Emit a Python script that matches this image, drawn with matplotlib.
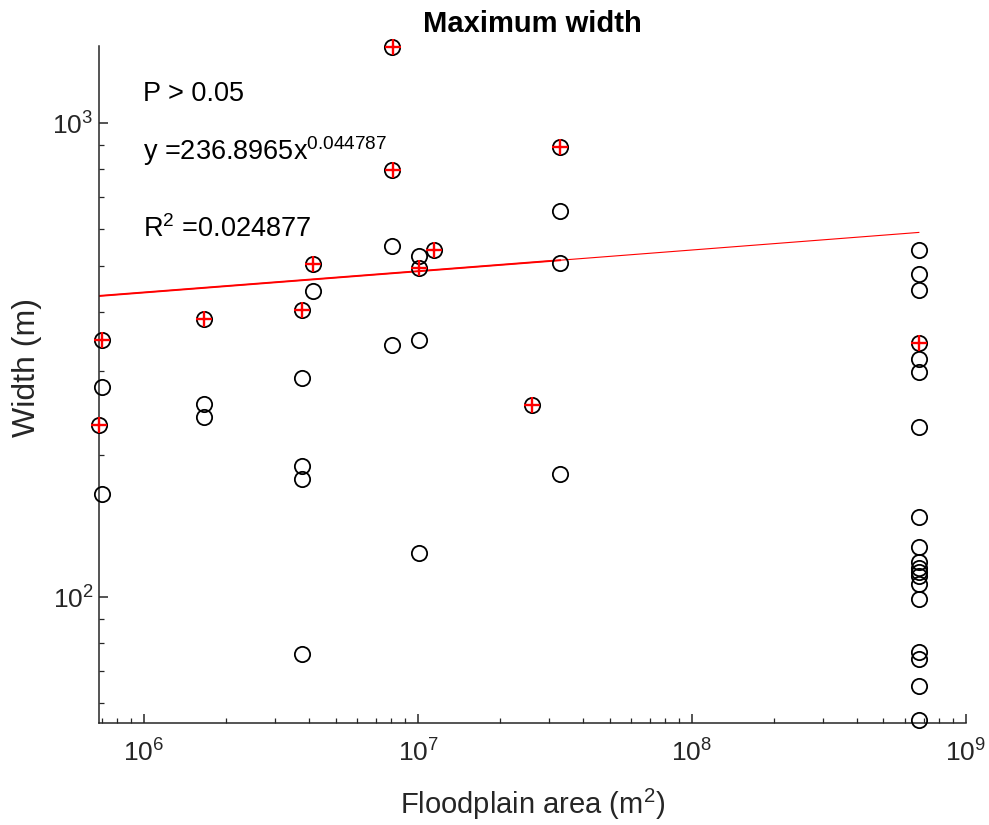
import matplotlib
matplotlib.use('Agg')
import matplotlib.pyplot as plt
import numpy as np
from matplotlib.ticker import LogLocator, NullFormatter

plt.rcParams['font.family'] = ['Liberation Sans', 'DejaVu Sans']
plt.rcParams['mathtext.fontset'] = 'custom'
plt.rcParams['mathtext.rm'] = 'Liberation Sans'
plt.rcParams['mathtext.it'] = 'Liberation Sans:italic'

# floodplain area (m2) and maximum width (m) of every site
area = [7.03e5, 7.03e5, 6.84e5, 7.03e5,
        1.65e6, 1.65e6, 1.65e6,
        3.76e6, 3.76e6, 3.76e6, 3.76e6, 3.76e6,
        4.14e6, 4.14e6,
        8.07e6, 8.07e6, 8.07e6, 8.07e6,
        1.009e7, 1.009e7, 1.009e7, 1.009e7,
        1.143e7, 2.61e7,
        3.30e7, 3.30e7, 3.30e7, 3.30e7,
        6.73e8, 6.73e8, 6.73e8, 6.73e8, 6.73e8, 6.73e8, 6.73e8, 6.73e8,
        6.73e8, 6.73e8, 6.73e8, 6.73e8, 6.73e8, 6.73e8, 6.73e8, 6.73e8,
        6.73e8, 6.73e8, 6.73e8]
width = [349, 278, 231, 165,
         386, 256, 240,
         404, 290, 189.5, 177.5, 75.9,
         504, 443,
         1451, 797, 551, 340,
         525, 495, 349, 123.8,
         540, 254,
         892, 653, 508, 182,
         540, 480, 446, 343.5, 319, 299, 229, 147.5,
         127.9, 118.9, 115.1, 113.2, 110.9, 106.5, 99.2, 76.8,
         74.0, 65.1, 55.1]

# points marked with a red cross
area_sel = [7.03e5, 6.84e5, 1.65e6, 3.76e6, 4.14e6, 8.1e6, 8.1e6,
            1.009e7, 1.143e7, 2.61e7, 3.30e7, 6.73e8]
width_sel = [349, 231, 386, 404, 504, 1451, 797, 495, 540, 254, 892, 343.5]

# power fit y = a*x^b
a_fit = 236.8965
b_fit = 0.044787
r2 = 0.024877

fig = plt.figure(figsize=(9.89, 8.25), dpi=100)
ax = fig.add_axes([0.1001, 0.124, 0.8766, 0.8202])

ax.plot(area, width, 'o', mfc='none', mec='black', ms=11, mew=1.3, zorder=3, clip_on=False)
ax.plot(area_sel, width_sel, '+', color='red', ms=12, mew=1.7, zorder=4, clip_on=False)

xf = np.array([min(area), max(area)])
ax.plot(xf, a_fit * xf ** b_fit, color='red', lw=0.8, zorder=2)
xs = np.array([min(area), 3.30e7])
ax.plot(xs, a_fit * xs ** b_fit, color='red', lw=1.4, zorder=2)

ax.set_xscale('log')
ax.set_yscale('log')
ax.set_xlim(6.85e5, 1.0e9)
ax.set_ylim(54.4, 1456)

ax.xaxis.set_major_locator(LogLocator(base=10, numticks=10))
ax.xaxis.set_minor_locator(LogLocator(base=10, subs=np.arange(2, 10), numticks=20))
ax.yaxis.set_minor_locator(LogLocator(base=10, subs=np.arange(2, 10), numticks=20))
ax.xaxis.set_minor_formatter(NullFormatter())
ax.yaxis.set_minor_formatter(NullFormatter())

for s in ['top', 'right']:
    ax.spines[s].set_visible(False)
for s in ['left', 'bottom']:
    ax.spines[s].set_color('#262626')
    ax.spines[s].set_linewidth(1.1)

ax.tick_params(which='both', direction='in', colors='#262626', labelsize=19)
ax.tick_params(which='major', length=6.7, width=1.1)
ax.tick_params(which='minor', length=3.3, width=0.9)
ax.tick_params(axis='x', which='major', pad=12)
ax.tick_params(axis='y', which='major', pad=4)

ax.set_xlabel('Floodplain area (m$^{2}$)', fontsize=21, color='#262626')
ax.xaxis.set_label_coords(0.5, -0.095)
ax.set_ylabel('Width (m)', fontsize=23, color='#262626')
ax.yaxis.set_label_coords(-0.066, 0.525)
ax.set_title('Maximum width', fontsize=21, fontweight='bold', pad=10)

ax.text(0.0507, 0.9187, 'P > 0.05', transform=ax.transAxes, fontsize=19.5, va='baseline')
ax.text(0.0507, 0.8316, 'y =%.4fx$^{%s}$' % (a_fit, b_fit), transform=ax.transAxes,
        fontsize=19.5, va='baseline')
ax.text(0.0507, 0.7182, 'R$^{2}$ =%s' % r2, transform=ax.transAxes, fontsize=19.5,
        va='baseline')

fig.savefig('out.png', dpi=100, facecolor='white')
